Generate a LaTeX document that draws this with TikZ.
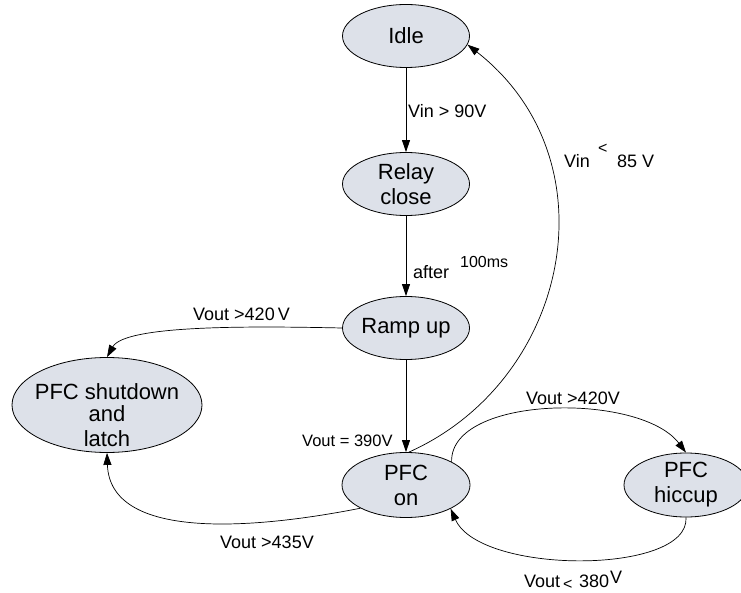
\documentclass[tikz,border=0pt]{standalone}
\usepackage{fontspec}
\setmainfont{Liberation Sans}
\usetikzlibrary{shapes.geometric,arrows.meta}
\definecolor{stfill}{RGB}{221,225,233}
\tikzset{
  state/.style={ellipse, draw=black, fill=stfill, line width=0.8pt, inner sep=0pt},
  stxt/.style={align=center, inner sep=0pt, font=\fontsize{22}{25}\selectfont},
  lbl/.style={inner sep=0pt, anchor=base west, font=\fontsize{18}{21}\selectfont},
  mlbl/.style={inner sep=0pt, anchor=base west, font=\fontsize{16.5}{20}\selectfont},
  slbl/.style={inner sep=0pt, anchor=base west, font=\fontsize{16}{19}\selectfont},
  arr/.style={-{Triangle[length=12pt,width=8pt]}, line width=0.7pt}
}
\begin{document}
\begin{tikzpicture}[x=1pt,y=-1pt]
\useasboundingbox (0,0) rectangle (741,593);
\clip (0,0) rectangle (741,593);
\fill[white] (0,0) rectangle (741,593);
% states
\node[state, minimum width=127pt, minimum height=63pt,
  label={[stxt]center:Idle}] (idle) at (406,36) {};
\node[state, minimum width=127pt, minimum height=63pt,
  label={[stxt]center:{Relay\\close}}] (relay) at (406,184) {};
\node[state, minimum width=127pt, minimum height=63pt,
  label={[stxt]center:{Ramp up}}] (ramp) at (406,328) {};
\node[state, minimum width=190pt, minimum height=95pt,
  label={[stxt, yshift=-10pt]center:{PFC shutdown\\[-3pt]and\\[0pt]latch}}] (shut) at (107,405) {};
\node[state, minimum width=128pt, minimum height=65pt,
  label={[stxt]center:{PFC\\on}}] (pfcon) at (406,485) {};
\node[state, minimum width=124pt, minimum height=64pt,
  label={[stxt]center:{PFC\\hiccup}}] (hiccup) at (686,485) {};
% connectors
\draw[arr] (idle) -- (relay);
\draw[arr] (relay) -- (ramp);
\draw[arr] (ramp) -- (pfcon);
\draw[arr] (ramp.west) .. controls (250,326) and (125,325) .. (shut.north);
\draw[arr] (pfcon.85) .. controls (570,380) and (615,160) .. (idle.-8);
\draw[arr] (pfcon.27) .. controls (450,395) and (640,392) .. (hiccup.north);
\draw[arr] (hiccup.south) .. controls (690,575) and (480,575) .. (pfcon.-28);
\draw[arr] (pfcon.207) .. controls (250,530) and (110,540) .. (shut.south);
% labels
\node[lbl] (l1) at (408,118) {Vin > 90V};
\node[lbl] (l2) at (413,279) {after};
\node[slbl] (l3) at (460,268) {100ms};
\node[lbl] (l4) at (193,321) {Vout >420\,V};
\node[mlbl] (l5) at (302,446) {Vout = 390V};
\node[lbl] (l6a) at (564,168) {Vin};
\node[slbl] (l6b) at (598,154) {<};
\node[lbl] (l6c) at (617,168) {85 V};
\node[lbl] (l7) at (526,404) {Vout >420V};
\node[lbl] (l8) at (220,548) {Vout >435V};
\node[lbl] (l9a) at (524,587) {Vout};
\node[slbl] (l9b) at (563,589) {<};
\node[lbl] (l9c) at (579,587) {380};
\node[lbl] (l9d) at (610,583) {V};
\end{tikzpicture}
\end{document}
